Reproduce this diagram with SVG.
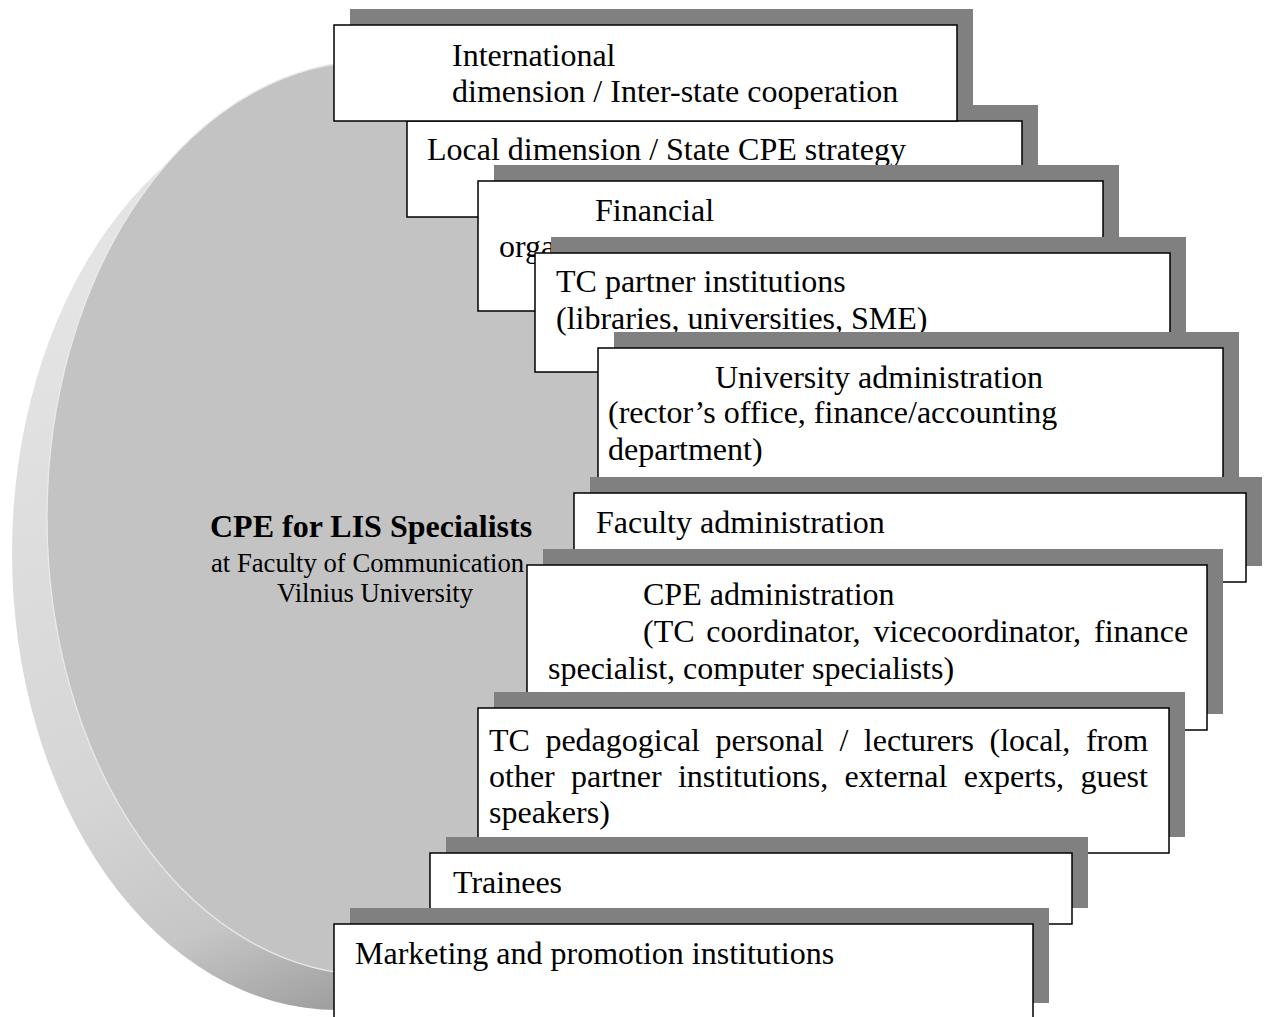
<svg xmlns="http://www.w3.org/2000/svg" width="1269" height="1017" viewBox="0 0 1269 1017">
<style>
.sh{fill:#808080;stroke:none}
.bx{fill:#ffffff;stroke:#000000;stroke-width:1.5}
.t{font-family:"Liberation Serif","Times New Roman",serif;font-size:32px;fill:#000000}
.c{font-family:"Liberation Serif","Times New Roman",serif;fill:#000000}
</style>
<defs>
<linearGradient id="side" gradientUnits="userSpaceOnUse" x1="60" y1="300" x2="360" y2="1040">
<stop offset="0" stop-color="#e4e4e4"/>
<stop offset="0.6" stop-color="#d5d5d5"/>
<stop offset="0.8" stop-color="#c6c6c6"/>
<stop offset="1" stop-color="#929292"/>
</linearGradient>
</defs>
<rect x="0" y="0" width="1269" height="1017" fill="#ffffff"/>

<g id="disc">
<ellipse cx="337" cy="553" rx="325" ry="457" fill="url(#side)"/>
<ellipse cx="372" cy="518" rx="325" ry="457" fill="#c3c3c3" stroke="#e9e9e9" stroke-width="1.3"/>
<text class="c" x="210" y="537" font-size="32" font-weight="bold">CPE for LIS Specialists</text>
<text class="c" x="211" y="572" font-size="26.67">at Faculty of Communication</text>
<text class="c" x="277" y="602" font-size="26.67">Vilnius University</text>
</g>

<g id="connectors"></g>

<g id="local">
<rect class="sh" x="423" y="105" width="615" height="96"/>
<rect class="bx" x="407" y="121" width="615" height="96"/>
<text class="t" x="427" y="160">Local dimension / State CPE strategy</text>
</g>

<g id="international">
<rect class="sh" x="350" y="9" width="623" height="96"/>
<rect class="bx" x="334" y="25" width="623" height="96"/>
<text class="t" x="452" y="66">International</text>
<text class="t" x="452" y="102">dimension / Inter-state cooperation</text>
</g>

<g id="financial">
<rect class="sh" x="494" y="165" width="625" height="130"/>
<rect class="bx" x="478" y="181" width="625" height="130"/>
<text class="t" x="595" y="221">Financial</text>
<text class="t" x="499" y="257">orga</text>
</g>

<g id="tc-partner">
<rect class="sh" x="551" y="237" width="635" height="119"/>
<rect class="bx" x="535" y="253" width="635" height="119"/>
<text class="t" x="556" y="292">TC partner institutions</text>
<text class="t" x="556" y="329">(libraries, universities, SME)</text>
</g>

<g id="university">
<rect class="sh" x="614" y="332" width="625" height="145"/>
<rect class="bx" x="598" y="348" width="625" height="145"/>
<text class="t" x="715" y="388">University administration</text>
<text class="t" x="608" y="423">(rector’s office, finance/accounting</text>
<text class="t" x="608" y="460">department)</text>
</g>

<g id="faculty">
<rect class="sh" x="590" y="477" width="672" height="89"/>
<rect class="bx" x="574" y="493" width="672" height="89"/>
<text class="t" x="596" y="533">Faculty administration</text>
</g>

<g id="cpe-admin">
<rect class="sh" x="543" y="549" width="680" height="165"/>
<rect class="bx" x="527" y="565" width="680" height="165"/>
<text class="t" x="643" y="605">CPE administration</text>
<text class="t" y="642"><tspan x="643">(TC</tspan><tspan x="706.3">coordinator,</tspan><tspan x="873.5">vicecoordinator,</tspan><tspan x="1094">finance</tspan></text>
<text class="t" x="548" y="679">specialist, computer specialists)</text>
</g>

<g id="tc-pedagogical">
<rect class="sh" x="494" y="692" width="691" height="145"/>
<rect class="bx" x="478" y="708" width="691" height="145"/>
<text class="t" y="751"><tspan x="489">TC</tspan><tspan x="545.4">pedagogical</tspan><tspan x="715.5">personal</tspan><tspan x="839.4">/</tspan><tspan x="863.8">lecturers</tspan><tspan x="989.5">(local,</tspan><tspan x="1085.9">from</tspan></text>
<text class="t" y="787"><tspan x="489">other</tspan><tspan x="571">partner</tspan><tspan x="677.9">institutions,</tspan><tspan x="844.4">external</tspan><tspan x="963.7">experts,</tspan><tspan x="1080.4">guest</tspan></text>
<text class="t" x="489" y="823">speakers)</text>
</g>

<g id="trainees">
<rect class="sh" x="446" y="837" width="642" height="71"/>
<rect class="bx" x="430" y="853" width="642" height="71"/>
<text class="t" x="453" y="893">Trainees</text>
</g>

<g id="marketing">
<rect class="sh" x="350" y="908" width="699" height="95"/>
<rect class="bx" x="334" y="924" width="699" height="95"/>
<text class="t" x="355" y="964">Marketing and promotion institutions</text>
</g>
</svg>
